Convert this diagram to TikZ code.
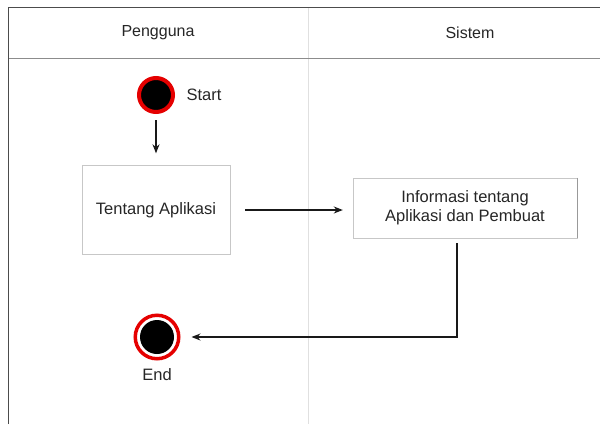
\documentclass[tikz,border=0pt]{standalone}
\usepackage{fontspec}
\setmainfont{Liberation Sans}
\usetikzlibrary{positioning, arrows.meta}

\begin{document}
\begin{tikzpicture}
    [x=1pt, y=-1pt,
    lanehead/.style={font=\fontsize{16}{18}\selectfont, text=black!85},
    txtnode/.style={font=\fontsize{16.5}{19}\selectfont, text=black!85},
    actnode/.style={rectangle, draw=black!22, fill=white, align=center, text=black!85, font=\fontsize{16.5}{19}\selectfont},
    startnode/.style={circle, draw=red!90!black, line width=4pt, fill=black, minimum size=34pt, inner sep=0pt},
    endnode/.style={circle, draw=red!90!black, line width=3.5pt, fill=white, minimum size=43.5pt, inner sep=0pt,
        path picture={\fill[black] (path picture bounding box.center) circle (17pt);}},
    flow/.style={-{Stealth[length=9pt, width=7pt]}, line width=1.3pt, black!90}]

    \useasboundingbox (0,0) rectangle (600,424);

    %Swimlanes
    \draw[black!12, line width=1pt] (308,7) -- (308,424);
    \draw[black!45, line width=1pt] (8,58) -- (600,58);
    \draw[black!70, line width=1pt] (8,424) -- (8,7) -- (600,7);
    \node[lanehead](pengguna) at (158,33){Pengguna};
    \node[lanehead](sistem) at (470,33){Sistem};

    %Nodes
    \node[startnode](start) at (156,95){};
    \node[txtnode](startlbl)[right=8pt of start]{Start};
    \node[actnode, minimum width=148pt, minimum height=89pt](tentang) at (156,210){Tentang Aplikasi};
    \node[actnode, minimum width=224pt, minimum height=60pt](info) at (465,208){Informasi tentang\\Aplikasi dan Pembuat};
    \draw[black!40, line width=1pt] (info.north east) -- (info.south east);
    \node[endnode](end) at (157,337){};
    \node[txtnode](endlbl)[below=5pt of end]{End};
    \coordinate (turn) at (457,337);

    %Lines
    \draw[flow, shorten <=6pt, shorten >=12pt](start) -- (start |- tentang.north);
    \draw[flow, shorten <=15pt, shorten >=10pt](tentang.east) -- (tentang.east -| info.west);
    \draw[flow, shorten <=5pt, shorten >=11pt](info.south -| turn) -- (turn) -- (end);
\end{tikzpicture}
\end{document}
